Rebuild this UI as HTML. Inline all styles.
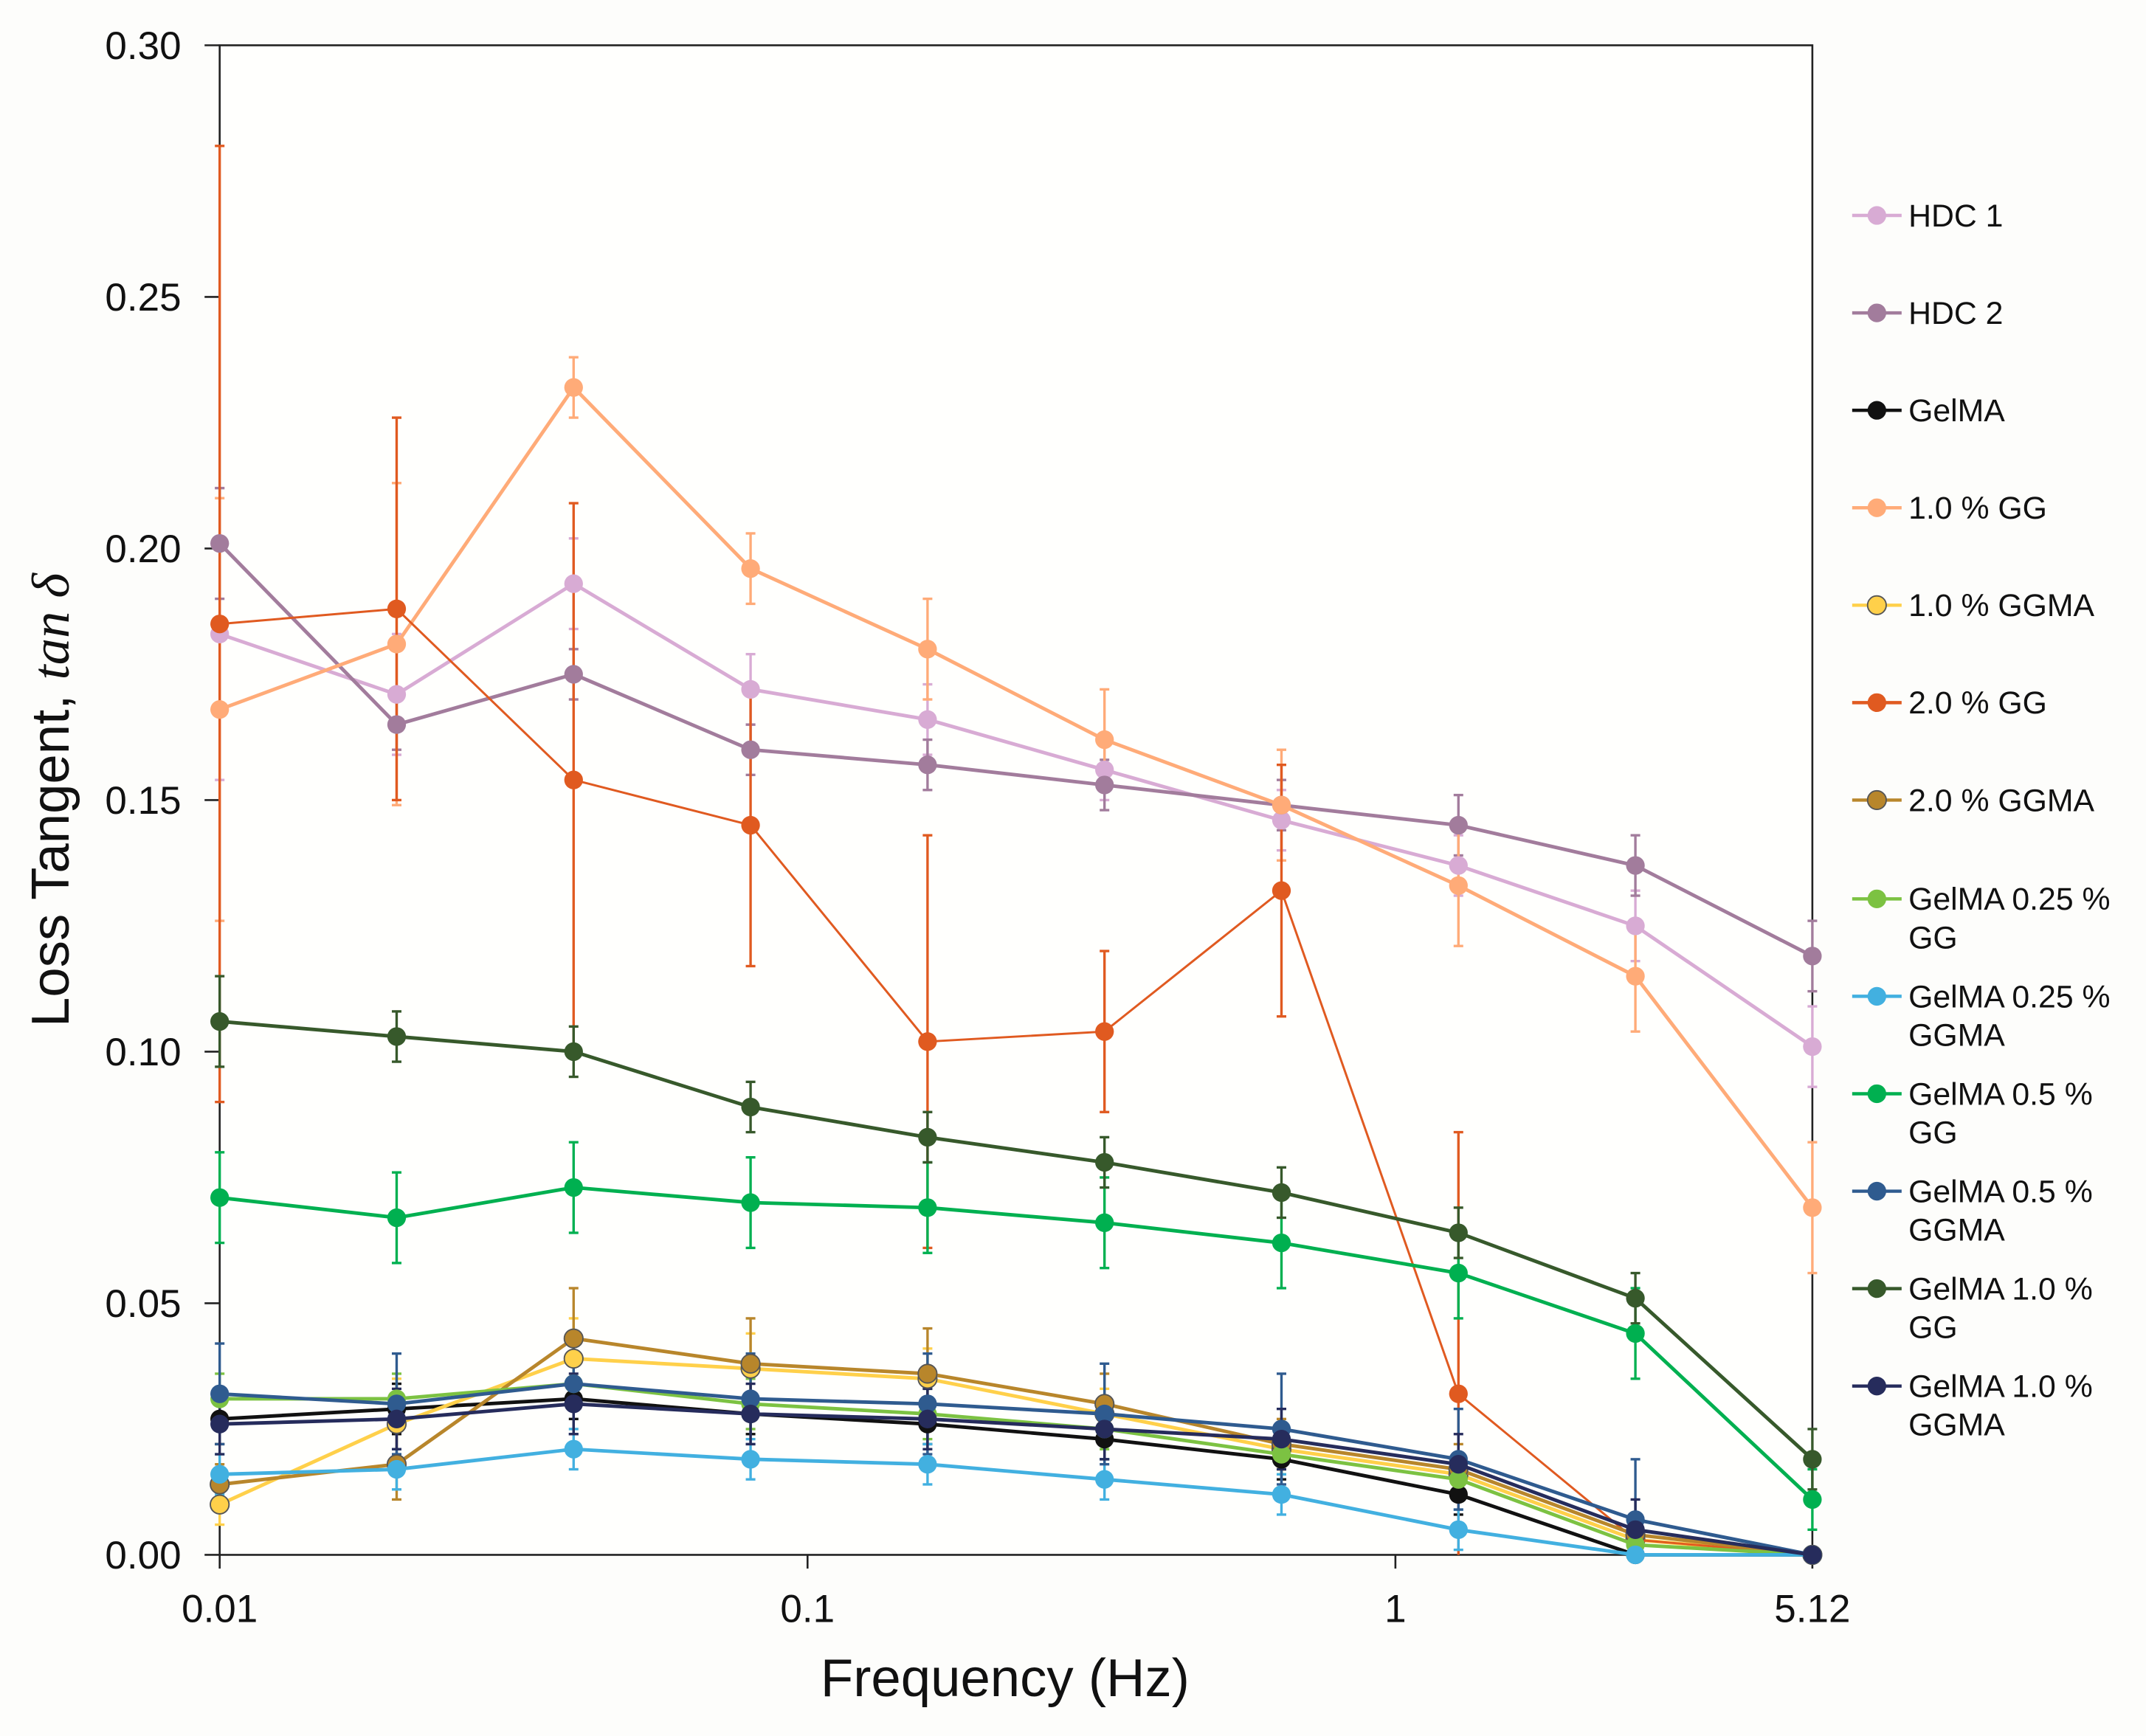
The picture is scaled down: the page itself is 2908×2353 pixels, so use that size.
<!DOCTYPE html>
<html><head><meta charset="utf-8"><style>
html,body{margin:0;padding:0;background:#fdfdfb;}
svg{display:block;font-family:"Liberation Sans",Arial,sans-serif;}
</style></head><body>
<svg id="chart" width="2908" height="2353" viewBox="0 0 1563 1265" preserveAspectRatio="none" xmlns="http://www.w3.org/2000/svg">
<rect x="0" y="0" width="1563" height="1265" fill="#fdfdfb"/>
<g id="axes"></g>
<g id="series"></g>
<g id="legend"></g>
</svg>
<script>
const freqs = [0.01,0.02,0.04,0.08,0.16,0.32,0.64,1.28,2.56,5.12];
const seriesNames = ["HDC 1","HDC 2","GelMA","1.0 % GG","1.0 % GGMA","2.0 % GG","2.0 % GGMA","GelMA 0.25 % GG","GelMA 0.25 % GGMA","GelMA 0.5 % GG","GelMA 0.5 % GGMA","GelMA 1.0 % GG","GelMA 1.0 % GGMA"];
const legendLines = [["HDC 1"],["HDC 2"],["GelMA"],["1.0 % GG"],["1.0 % GGMA"],["2.0 % GG"],["2.0 % GGMA"],["GelMA 0.25 %","GG"],["GelMA 0.25 %","GGMA"],["GelMA 0.5 %","GG"],["GelMA 0.5 %","GGMA"],["GelMA 1.0 %","GG"],["GelMA 1.0 %","GGMA"]];
const colors = ["#d8abd4","#a27c9c","#111111","#ffab78","#ffd04a","#e05a20","#b8862b","#7cc242","#42b0e0","#00b050","#2f5b8f","#37592b","#262c5c"];
const hdc1 = [0.183,0.171,0.193,0.172,0.166,0.156,0.146,0.137,0.125,0.101];
const hdc1Err = [0.029,0.012,0.009,0.007,0.007,0.006,0.006,0.006,0.007,0.008];
const hdc2 = [0.201,0.165,0.175,0.160,0.157,0.153,0.149,0.145,0.137,0.119];
const hdc2Err = [0.011,0.005,0.005,0.005,0.005,0.005,0.005,0.006,0.006,0.007];
const gelma = [0.027,0.029,0.031,0.028,0.026,0.023,0.019,0.012,0.000,0.000];
const gelmaErr = [0.005,0.005,0.004,0.004,0.004,0.004,0.004,0.004,0.002,0.000];
const gg10 = [0.168,0.181,0.232,0.196,0.180,0.162,0.149,0.133,0.115,0.069];
const gg10Err = [0.042,0.032,0.006,0.007,0.010,0.010,0.011,0.012,0.011,0.013];
const ggma10 = [0.010,0.026,0.039,0.037,0.035,0.028,0.021,0.016,0.003,0.000];
const ggma10Err = [0.004,0.009,0.008,0.007,0.006,0.005,0.004,0.004,0.002,0.000];
const gg20 = [0.185,0.188,0.154,0.145,0.102,0.104,0.132,0.032,0.003,0.000];
const gg20Err = [0.095,0.038,0.055,0.028,0.041,0.016,0.025,0.052,0.000,0.000];
const ggma20 = [0.014,0.018,0.043,0.038,0.036,0.030,0.022,0.017,0.004,0.000];
const ggma20Err = [0.004,0.007,0.010,0.009,0.009,0.006,0.005,0.005,0.003,0.000];
const g025gg = [0.031,0.031,0.034,0.030,0.028,0.025,0.020,0.015,0.002,0.000];
const g025ggErr = [0.005,0.005,0.005,0.005,0.005,0.004,0.004,0.004,0.002,0.000];
const g025ggma = [0.016,0.017,0.021,0.019,0.018,0.015,0.012,0.005,0.000,0.000];
const g025ggmaErr = [0.004,0.004,0.004,0.004,0.004,0.004,0.004,0.004,0.001,0.000];
const g05gg = [0.071,0.067,0.073,0.070,0.069,0.066,0.062,0.056,0.044,0.011];
const g05ggErr = [0.009,0.009,0.009,0.009,0.009,0.009,0.009,0.009,0.009,0.006];
const g05ggma = [0.032,0.030,0.034,0.031,0.030,0.028,0.025,0.019,0.007,0.000];
const g05ggmaErr = [0.010,0.010,0.010,0.009,0.010,0.010,0.011,0.010,0.012,0.000];
const g10gg = [0.106,0.103,0.100,0.089,0.083,0.078,0.072,0.064,0.051,0.019];
const g10ggErr = [0.009,0.005,0.005,0.005,0.005,0.005,0.005,0.005,0.005,0.006];
const g10ggma = [0.026,0.027,0.030,0.028,0.027,0.025,0.023,0.018,0.005,0.000];
const g10ggmaErr = [0.006,0.006,0.006,0.006,0.006,0.006,0.006,0.006,0.006,0.000];
const allValues = [hdc1,hdc2,gelma,gg10,ggma10,gg20,ggma20,g025gg,g025ggma,g05gg,g05ggma,g10gg,g10ggma];
const allErrors = [hdc1Err,hdc2Err,gelmaErr,gg10Err,ggma10Err,gg20Err,ggma20Err,g025ggErr,g025ggmaErr,g05ggErr,g05ggmaErr,g10ggErr,g10ggmaErr];
const yTicks = [0,0.05,0.10,0.15,0.20,0.25,0.30];
const yTickLabels = ["0.00","0.05","0.10","0.15","0.20","0.25","0.30"];
const xTicks = [0.01,0.1,1,5.12];
const xTickLabels = ["0.01","0.1","1","5.12"];

const NS="http://www.w3.org/2000/svg";
const L=160,R=1320,T=33,B=1133;
const xMin=Math.log10(0.01),xMax=Math.log10(5.12);
function xs(f){return L+(Math.log10(f)-xMin)/(xMax-xMin)*(R-L);}
function ys(v){return B-v/0.30*(B-T);}
function mk(tag,attrs,parent){const e=document.createElementNS(NS,tag);for(const k in attrs)e.setAttribute(k,attrs[k]);parent.appendChild(e);return e;}
const axes=document.getElementById('axes'),sg=document.getElementById('series'),lg=document.getElementById('legend');

const plotBg=mk('rect',{x:L,y:T,width:R-L,height:B-T,fill:'#fffffd',stroke:'#222','stroke-width':1.4},axes);


yTicks.forEach((v,i)=>{
  const t=mk('line',{x1:L-11,x2:L,y1:ys(v),y2:ys(v),stroke:'#222','stroke-width':1.4},axes);
  
  
  const tx=mk('text',{x:L-28,y:ys(v)+10,'text-anchor':'end','font-size':28.5,fill:'#111'},axes);
  tx.textContent=yTickLabels[i];
  
  
});
xTicks.forEach((f,i)=>{
  const t=mk('line',{x1:xs(f),x2:xs(f),y1:B,y2:B+10,stroke:'#222','stroke-width':1.4},axes);
  
  
  const tx=mk('text',{x:xs(f),y:B+49,'text-anchor':'middle','font-size':28.5,fill:'#111'},axes);
  tx.textContent=xTickLabels[i];
  
  
});
const xt=mk('text',{x:732,y:1236,'text-anchor':'middle','font-size':39,fill:'#111'},axes);
xt.textContent='Frequency (Hz)';


const yt=mk('text',{x:0,y:0,'text-anchor':'middle','font-size':39,fill:'#111',transform:'translate(50,583) rotate(-90)'},axes);
yt.innerHTML='Loss Tangent, <tspan font-family="Liberation Serif, serif" font-style="italic">tan δ</tspan>';



allValues.forEach((vals,si)=>{
  const g=mk('g',{},sg);
  
  
  vals.forEach((v,i)=>{
    const e=allErrors[si][i]; if(e<=0) return;
    const x=xs(freqs[i]);
    mk('line',{x1:x,x2:x,y1:ys(Math.max(0,v-e)),y2:ys(v+e),stroke:colors[si],'stroke-width':1.8},g);
    mk('line',{x1:x-3.5,x2:x+3.5,y1:ys(v+e),y2:ys(v+e),stroke:colors[si],'stroke-width':1.8},g);
    if(v-e>0) mk('line',{x1:x-3.5,x2:x+3.5,y1:ys(v-e),y2:ys(v-e),stroke:colors[si],'stroke-width':1.8},g);
  });
});
allValues.forEach((vals,si)=>{
  const g=mk('g',{},sg);
  
  
  const pts=vals.map((v,i)=>xs(freqs[i]).toFixed(1)+','+ys(v).toFixed(1)).join(' ');
  mk('polyline',{points:pts,fill:'none',stroke:colors[si],'stroke-width':si==5?1.6:2.6},g);
  vals.forEach((v,i)=>{
    const c=mk('circle',{cx:xs(freqs[i]),cy:ys(v),r:6.8,fill:colors[si],stroke:(si==4||si==6)?'#555':'none','stroke-width':1},g);
    
    
  });
});
const legY=[157,228,299,370,441,512,583,655,726,797,868,939,1010];
legendLines.forEach((lines,i)=>{
  const g=mk('g',{},lg);
  
  
  const y=legY[i];
  mk('line',{x1:1349,x2:1385,y1:y,y2:y,stroke:colors[i],'stroke-width':2.4},g);
  mk('circle',{cx:1367,cy:y,r:6.8,fill:colors[i],stroke:(i==4||i==6)?'#555':'none','stroke-width':1},g);
  lines.forEach((s,k)=>{
    const t=mk('text',{x:1390,y:y+8+k*28,'font-size':23,fill:'#111'},g);
    t.textContent=s;
  });
});
</script>
</body></html>
